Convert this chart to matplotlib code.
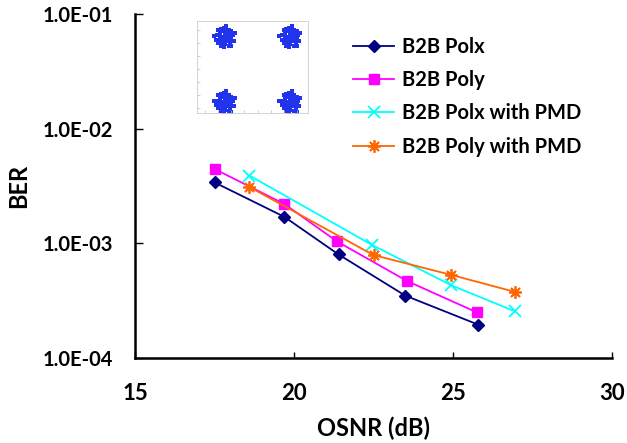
import matplotlib
matplotlib.use("Agg")
import matplotlib.pyplot as plt
from matplotlib.ticker import FixedLocator

plt.rcParams['font.family'] = ['Lato', 'DejaVu Sans']
plt.rcParams['font.weight'] = 'bold'

# OSNR (dB) / BER
polx_osnr = [17.5, 19.7, 21.4, 23.5, 25.8]
polx_ber = [3.4e-3, 1.7e-3, 8.0e-4, 3.5e-4, 1.95e-4]
poly_osnr = [17.5, 19.7, 21.35, 23.55, 25.75]
poly_ber = [4.45e-3, 2.2e-3, 1.04e-3, 4.7e-4, 2.5e-4]
polx_pmd_osnr = [18.6, 22.45, 24.95, 26.95]
polx_pmd_ber = [3.9e-3, 9.7e-4, 4.3e-4, 2.55e-4]
poly_pmd_osnr = [18.6, 22.5, 24.95, 26.95]
poly_pmd_ber = [3.1e-3, 7.9e-4, 5.3e-4, 3.77e-4]

x_ticks = [15, 20, 25, 30]
y_ticks = [1e-4, 1e-3, 1e-2, 1e-1]
y_tick_labels = ["1.0E-04", "1.0E-03", "1.0E-02", "1.0E-01"]

# QPSK constellation inset: cluster centres and dot offsets (approximate)
const_centres = [(-1, 1), (1, 1), (-1, -1), (1, -1)]
dot_dx = [-0.2, -0.12, -0.04, 0.04, 0.12, 0.2, -0.16, -0.08, 0.0, 0.08, 0.16,
          -0.24, -0.12, 0.0, 0.12, 0.24, -0.16, -0.04, 0.08, 0.2, -0.08, 0.04,
          0.16, -0.2, 0.0, 0.3, -0.34, 0.12, -0.04, 0.04, 0.16, -0.12,
          0.28, -0.26, 0.2, -0.12]
dot_dy = [0.2, 0.24, 0.28, 0.24, 0.2, 0.16, 0.12, 0.16, 0.12, 0.08, 0.08,
          0.04, 0.0, 0.04, 0.0, 0.04, -0.08, -0.04, -0.08, -0.04, -0.16, -0.12,
          -0.16, -0.2, -0.24, 0.12, 0.02, -0.28, -0.32, 0.32, -0.24, -0.28,
          -0.14, -0.1, -0.3, 0.24]

fig = plt.figure(figsize=(6.27, 4.43), dpi=100)
ax = fig.add_axes([135 / 627, 1 - 358 / 443, (612 - 135) / 627, (358 - 14) / 443])

ax.plot(polx_osnr, polx_ber, color='#000080', marker='D', ms=6.5, lw=1.3, label='B2B Polx')
ax.plot(poly_osnr, poly_ber, color='#FF00FF', marker='s', ms=7.5, lw=1.3, label='B2B Poly')
ax.plot(polx_pmd_osnr, polx_pmd_ber, color='#00FFFF', marker='x', ms=8.5, mew=1.3, lw=1.3,
        label='B2B Polx with PMD')
ax.plot(poly_pmd_osnr, poly_pmd_ber, color='#FF6600', marker=(8, 2, 0), ms=9, mew=1.3, lw=1.3,
        label='B2B Poly with PMD')

ax.set_yscale('log')
ax.set_xlim(15, 30)
ax.set_ylim(1e-4, 1e-1)
ax.xaxis.set_major_locator(FixedLocator(x_ticks))
ax.set_xticklabels([str(t) for t in x_ticks], fontsize=16, fontweight='bold')
ax.yaxis.set_major_locator(FixedLocator(y_ticks))
ax.yaxis.set_minor_locator(FixedLocator([]))
ax.set_yticklabels(y_tick_labels, fontsize=14.5, fontweight='bold')

for side in ['top', 'right']:
    ax.spines[side].set_visible(False)
for side in ['left', 'bottom']:
    ax.spines[side].set_linewidth(1.8)
ax.tick_params(axis='x', direction='in', length=4, width=1, pad=18)
ax.tick_params(axis='y', direction='in', length=6, width=1, pad=16)

ax.set_xlabel('OSNR (dB)', fontsize=17, fontweight='bold', labelpad=9)
ax.set_ylabel('BER', fontsize=17, fontweight='bold', labelpad=9)

leg = ax.legend(loc='upper left', bbox_to_anchor=(0.42, 0.985), frameon=False,
                prop={'size': 14.5, 'weight': 'bold'}, handlelength=2.0,
                handletextpad=0.4, labelspacing=0.65)

# constellation inset
ins = fig.add_axes([197 / 627, 1 - 113 / 443, 111 / 627, 92 / 443])
for cx, cy in const_centres:
    ins.scatter([cx + d for d in dot_dx], [cy + d for d in dot_dy], s=7, marker='s',
                color='#2233ee', linewidths=0)
ins.set_xlim(-1.85, 1.54)
ins.set_ylim(-1.34, 1.48)
ins.set_xticks([-1.6, -1.2, -0.8, -0.4, 0.0, 0.4, 0.8, 1.2])
ins.set_yticks([-1.2, -0.8, -0.4, 0.0, 0.4, 0.8, 1.2])
ins.tick_params(direction='in', length=2, width=0.5, colors='#bbbbbb',
                labelleft=False, labelbottom=False)
for s in ins.spines.values():
    s.set_color('#cccccc')
    s.set_linewidth(0.6)

fig.savefig('out.png', dpi=100)
